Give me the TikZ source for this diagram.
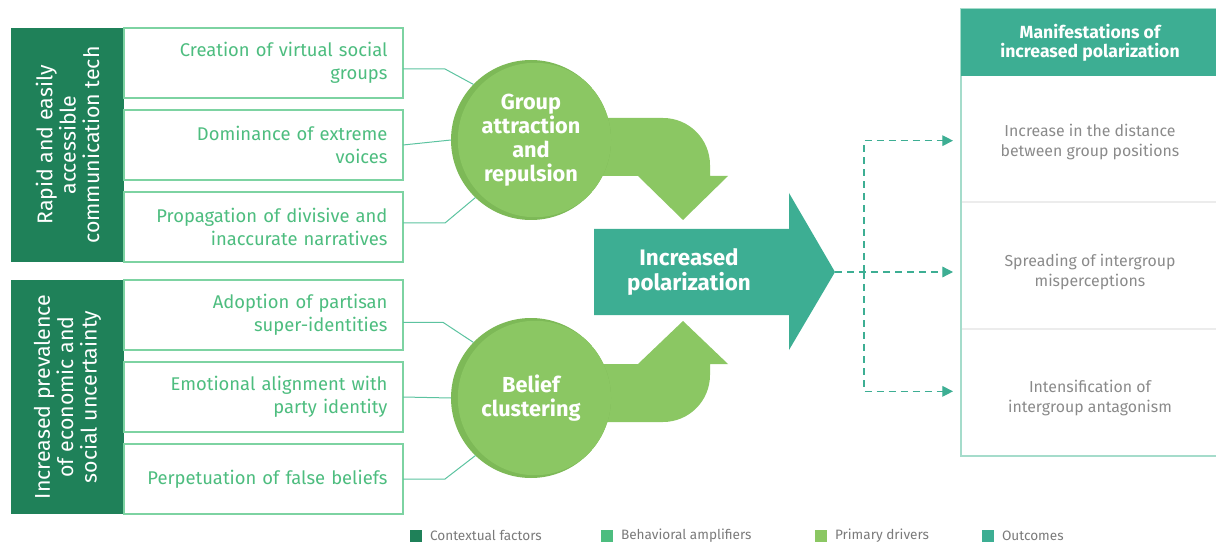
\documentclass[tikz,border=0pt]{standalone}
\usepackage{fontspec}
\setmainfont{Fira Sans}
\usetikzlibrary{arrows.meta,positioning,calc}

\definecolor{ctxgreen}{HTML}{1F8159}
\definecolor{ampgreen}{HTML}{4DBD7F}
\definecolor{ampline}{HTML}{7DD3A2}
\definecolor{drvgreen}{HTML}{8BC763}
\definecolor{drvshade}{HTML}{7DB957}
\definecolor{outteal}{HTML}{3DAE93}
\definecolor{linkteal}{HTML}{5CC3A0}
\definecolor{panelline}{HTML}{A5DCCB}
\definecolor{rowline}{HTML}{ECECEC}
\definecolor{txtgray}{HTML}{8A8A8A}
\definecolor{keygray}{HTML}{7A7A7A}

\begin{document}
\begin{tikzpicture}[x=0.75pt,y=-0.75pt, every node/.style={inner sep=0pt, outer sep=0pt},
    ctxbox/.style={fill=ctxgreen, text=white, rotate=90, align=center, minimum width=175.5pt, minimum height=84.75pt, font=\fontsize{16}{17.5}\selectfont},
    ampbox/.style={draw=ampline, line width=0.9pt, fill=white, minimum width=209.25pt, minimum height=52.5pt, inner xsep=11.6pt, text width=186pt, align=right, text=ampgreen, font=\fontsize{13.8}{17.25}\selectfont},
    driver/.style={circle, fill=drvshade, minimum size=120pt, text=white, align=center, font=\bfseries\fontsize{16.3}{18}\selectfont,
        path picture={\fill[drvgreen] ([xshift=3pt]path picture bounding box.center) circle[radius=57.9pt];}},
    link/.style={draw=linkteal, line width=0.75pt},
    dashlink/.style={draw=outteal, line width=0.9pt, dash pattern=on 5.5pt off 3.5pt, -{Triangle[length=8pt,width=8pt]}, shorten >=6pt},
    outtext/.style={text=txtgray, align=center, font=\fontsize{11.9}{14.5}\selectfont},
    key/.style={minimum size=9pt},
    keytext/.style={text=keygray, anchor=west, font=\fontsize{10.2}{11}\selectfont}]
    \useasboundingbox (0,0) rectangle (1216,545);

    % contextual factors
    \node[ctxbox] (ctxA) at (67.5,145) {Rapid and easily\\accessible\\communication tech};
    \node[ctxbox] (ctxB) at (67.5,397) {Increased prevalence\\of economic and\\social uncertainty};

    % behavioral amplifiers
    \node[ampbox] (amp1) at (263.5,63) {Creation of virtual social\\groups};
    \node[ampbox] (amp2) at (263.5,145) {Dominance of extreme\\voices};
    \node[ampbox] (amp3) at (263.5,227) {Propagation of divisive and\\inaccurate narratives};
    \node[ampbox] (amp4) at (263.5,315) {Adoption of partisan\\super-identities};
    \node[ampbox] (amp5) at (263.5,397) {Emotional alignment with\\party identity};
    \node[ampbox] (amp6) at (263.5,479) {Perpetuation of false beliefs};

    % bent arrows out of the drivers
    \fill[drvgreen] (590,118) -- (663,118) arc[start angle=90, end angle=0, radius=35.25pt]
        -- (710,176) -- (728,176) -- (683,220) -- (638,176) -- (590,176) -- cycle;
    \fill[drvgreen] (590,422) -- (663,422) arc[start angle=-90, end angle=0, radius=35.25pt]
        -- (710,364) -- (728,364) -- (683,321) -- (638,364) -- (590,364) -- cycle;

    % primary drivers
    \node[driver] (grp) at (531,140) {Group\\attraction\\and\\repulsion};
    \node[driver] (blf) at (531,398) {Belief\\clustering};

    \draw[link] ([yshift=-4.5pt]amp1.east) -- ++(42,0) -- (grp.136);
    \draw[link] (amp2.east) -- (grp.west);
    \draw[link] ([yshift=3pt]amp3.east) -- ++(42,0) -- (grp.226);
    \draw[link] ([yshift=-5.5pt]amp4.east) -- ++(40,0) -- (blf.136);
    \draw[link] (amp5.east) -- (blf.west);
    \draw[link] (amp6.east) -- ++(42,0) -- (blf.226);

    % outcome arrow
    \fill[outteal] (594,229) -- (789,229) -- (789,193) -- (835,272) -- (789,350) -- (789,315) -- (594,315) -- cycle;
    \node[text=white, align=center, font=\bfseries\fontsize{16.8}{18.75}\selectfont] (pol) at (689,272) {Increased\\polarization};
    \coordinate (poltip) at (835,272);
    \coordinate (split) at (864,272);

    % manifestations panel
    \draw[panelline, line width=1pt] (961,9) rectangle (1230,456);
    \draw[rowline, line width=1pt] (961.5,202) -- (1230,202);
    \draw[rowline, line width=1pt] (961.5,329) -- (1230,329);
    \node[fill=outteal, text=white, align=center, minimum width=193.5pt, minimum height=50.25pt, font=\bfseries\fontsize{13.2}{14.5}\selectfont] (mhead) at (1090,42.5) {Manifestations of\\increased polarization};
    \node[outtext] (out1) at (1090,142) {Increase in the distance\\between group positions};
    \node[outtext] (out2) at (1090,272) {Spreading of intergroup\\misperceptions};
    \node[outtext] (out3) at (1090,398) {Intensification of\\intergroup antagonism};

    \draw[dashlink] (poltip) -- (out2 -| mhead.west);
    \draw[dashlink] (split) |- ([yshift=1pt]out1 -| mhead.west);
    \draw[dashlink] (split) |- ([yshift=5pt]out3 -| mhead.west);

    % legend
    \node[key, fill=ctxgreen] (kctx) at (416,535.5) {};
    \node[keytext, right=6pt of kctx] {Contextual factors};
    \node[key, fill=ampgreen] (kamp) at (607,535.5) {};
    \node[keytext, right=6pt of kamp] {Behavioral amplifiers};
    \node[key, fill=drvgreen] (kdrv) at (821,535.5) {};
    \node[keytext, right=6pt of kdrv] {Primary drivers};
    \node[key, fill=outteal] (kout) at (988,535.5) {};
    \node[keytext, right=6pt of kout] {Outcomes};
\end{tikzpicture}
\end{document}
